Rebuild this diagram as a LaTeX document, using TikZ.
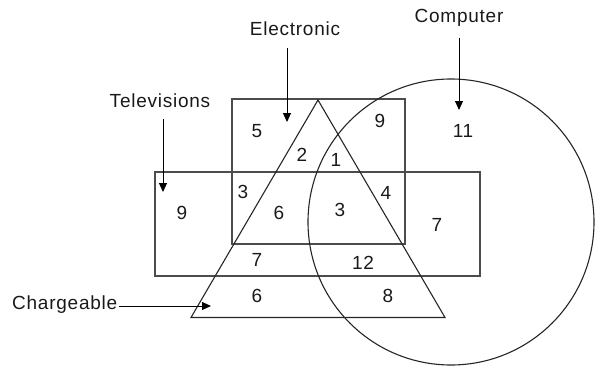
\documentclass[tikz,border=0pt]{standalone}
\usepackage{fontspec}
\setmainfont{Liberation Sans}[LetterSpace=4]
\usetikzlibrary{arrows.meta}
\begin{document}
\begin{tikzpicture}[x=1pt,y=-1pt,
  lbl/.style={inner sep=0pt,font=\fontsize{19}{22}\selectfont,text=black!90},
  num/.style={inner sep=0pt,font=\fontsize{19}{22}\selectfont,text=black!90},
  rectline/.style={draw=black!70,line width=1.4pt},
  thinline/.style={draw=black!85,line width=1.1pt},
  pointer/.style={draw=black,line width=1pt,-{Triangle[length=9pt,width=8pt]}}]
\useasboundingbox (0,0) rectangle (595,367);
% sets
\draw[rectline] (232,99) rectangle (405,244);
\draw[rectline] (155,172) rectangle (480,276);
\draw[thinline] (318,100) -- (191,317.5) -- (445,317.5) -- cycle;
\draw[thinline] (451,222) circle (143);
% labels
\node[lbl] (el) at (295,29) {Electronic};
\node[lbl] (tv) at (160,101) {Televisions};
\node[lbl] (co) at (459,18) {Computer};
\node[lbl,anchor=west] (ch) at (12,305) {Chargeable};
\coordinate (elt) at (287,122);
\coordinate (tvt) at (163,192);
\coordinate (cot) at (459,110);
\coordinate (cht) at (211,306);
\draw[pointer] (287,48) -- (elt);
\draw[pointer] (163,119) -- (tvt);
\draw[pointer] (459,38) -- (cot);
\draw[pointer] (ch.east) ++(2,1) coordinate (chs) (chs) -- (cht);
% numbers
\node[num] (n5) at (257,131) {5};
\node[num] (n2) at (302,155) {2};
\node[num] (n1) at (336,160) {1};
\node[num] (n9a) at (380,121) {9};
\node[num] (n11) at (463,131) {11};
\node[num] (n3a) at (243,192) {3};
\node[num] (n9b) at (182,213) {9};
\node[num] (n6a) at (279,213) {6};
\node[num] (n3b) at (340,210) {3};
\node[num] (n4) at (386,193) {4};
\node[num] (n7a) at (437,225) {7};
\node[num] (n7b) at (257,260) {7};
\node[num] (n12) at (363,263) {12};
\node[num] (n6b) at (257,296) {6};
\node[num] (n8) at (388,296) {8};
\end{tikzpicture}
\end{document}
